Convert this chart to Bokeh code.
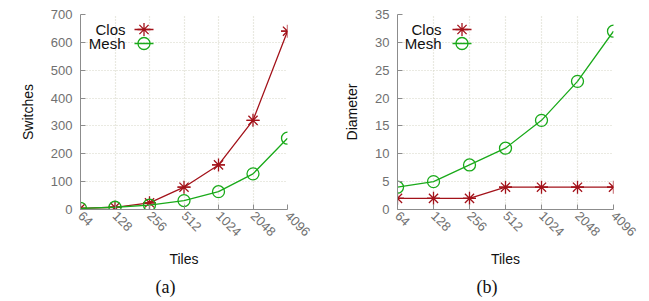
import math
from bokeh.plotting import figure
from bokeh.layouts import row
from bokeh.models import FixedTicker, NumeralTickFormatter, Label, Range1d, LinearScale, Title
from bokeh.embed import file_html
from bokeh.resources import INLINE

tiles = [64, 128, 256, 512, 1024, 2048, 4096]
switches_clos = [4, 8, 24, 80, 160, 320, 640]
switches_mesh = [4, 8, 16, 32, 64, 128, 256]
diameter_clos = [2, 2, 2, 4, 4, 4, 4]
diameter_mesh = [4, 5, 8, 11, 16, 23, 32]
switch_ticks = [0, 100, 200, 300, 400, 500, 600, 700]
diam_ticks = [0, 5, 10, 15, 20, 25, 30, 35]
series_names = ["Clos", "Mesh"]

CLOS = "#a3121a"
MESH = "#1aaa1a"
AXIS = "#8c8c8c"
TICKLBL = "#707070"
GRID = "#d4d4c4"
FONT = "Liberation Sans"
FH = 195
BT, BB = 14, 91


def make(fw, border_left, border_right, ylabel, ymax, yticks, clos, mesh,
         caption, cap_off, leg_text_x, leg_key_x0):
    p = figure(width=border_left + fw + border_right, height=BT + FH + BB,
               x_axis_type="log",
               x_range=(tiles[0], tiles[-1]), y_range=(0, ymax),
               output_backend="svg", toolbar_location=None,
               min_border_left=border_left, min_border_right=border_right,
               min_border_top=BT, min_border_bottom=BB)
    p.outline_line_color = None
    p.background_fill_color = None
    p.border_fill_color = "white"
    p.xaxis.ticker = FixedTicker(ticks=tiles, minor_ticks=[])
    p.xaxis.formatter = NumeralTickFormatter(format="0")
    p.yaxis.ticker = FixedTicker(ticks=yticks, minor_ticks=[])
    for ax in (p.xaxis[0], p.yaxis[0]):
        ax.axis_line_color = AXIS
        ax.axis_line_width = 1
        ax.major_tick_line_color = AXIS
        ax.major_tick_in = 5
        ax.major_tick_out = 0
        ax.minor_tick_line_color = None
        ax.major_label_text_color = TICKLBL
        ax.major_label_text_font = FONT
        ax.major_label_text_font_size = "13px"
        ax.axis_label_text_font = FONT
        ax.axis_label_text_font_size = "14px"
        ax.axis_label_text_font_style = "normal"
        ax.axis_label_text_color = "#111111"
    p.xaxis.major_label_orientation = -math.pi / 4
    p.xaxis.major_label_standoff = 4
    p.yaxis.major_label_standoff = 8
    p.xaxis.axis_label = "Tiles"
    p.xaxis.axis_label_standoff = 8
    p.yaxis.axis_label = ylabel
    p.yaxis.axis_label_standoff = 12
    for g in (p.xgrid[0], p.ygrid[0]):
        g.grid_line_color = GRID
        g.grid_line_dash = "1 2"
        g.grid_line_width = 1.2

    p.line(tiles, clos, line_color=CLOS, line_width=1.3)
    p.scatter(tiles, clos, marker="asterisk", size=13, line_color=CLOS, line_width=1.3)
    p.scatter(tiles, clos, marker="dash", size=13, line_color=CLOS, line_width=1.3)
    p.line(tiles, mesh, line_color=MESH, line_width=1.3)
    p.scatter(tiles, mesh, marker="circle", size=12, line_color=MESH,
              fill_color=None, line_width=1.3)

    # legend keys drawn in a pixel-based helper range (gnuplot style: text then key)
    p.extra_x_ranges = {"px": Range1d(0, fw)}
    p.extra_y_ranges = {"px": Range1d(0, FH)}
    p.extra_x_scales = {"px": LinearScale()}
    p.extra_y_scales = {"px": LinearScale()}
    rows_y = [FH - 15, FH - 29]
    kx = [leg_key_x0, leg_key_x0 + 19]
    kc = leg_key_x0 + 9.5
    p.line(kx, [rows_y[0]] * 2, line_color=CLOS, line_width=1.3,
           x_range_name="px", y_range_name="px")
    p.scatter([kc], [rows_y[0]], marker="asterisk", size=13, line_color=CLOS,
              line_width=1.3, x_range_name="px", y_range_name="px")
    p.line(kx, [rows_y[1]] * 2, line_color=MESH, line_width=1.3,
           x_range_name="px", y_range_name="px")
    p.scatter([kc], [rows_y[1]], marker="circle", size=12, line_color=MESH,
              fill_color=None, line_width=1.3, x_range_name="px", y_range_name="px")
    for i, name in enumerate(series_names):
        p.add_layout(Label(x=leg_text_x, y=rows_y[i], x_units="screen", y_units="screen",
                           text=name, text_align="right", text_baseline="middle",
                           text_font=FONT, text_font_size="15px", text_color="#111111"))
    cap = Title(text=caption, align="left", offset=cap_off, vertical_align="bottom",
                text_font="Liberation Serif", text_font_size="18px",
                text_font_style="normal", text_color="#111111", standoff=8)
    p.add_layout(cap, "below")
    return p


p1 = make(207, 80, 33, "Switches", 700, switch_ticks, switches_clos, switches_mesh,
          "(a)", 75, 45, 54)
p2 = make(216, 77, 30, "Diameter", 35, diam_ticks, diameter_clos, diameter_mesh,
          "(b)", 79, 44, 55)
lay = row(p1, p2)
open("out.html", "w").write(file_html(lay, INLINE))
